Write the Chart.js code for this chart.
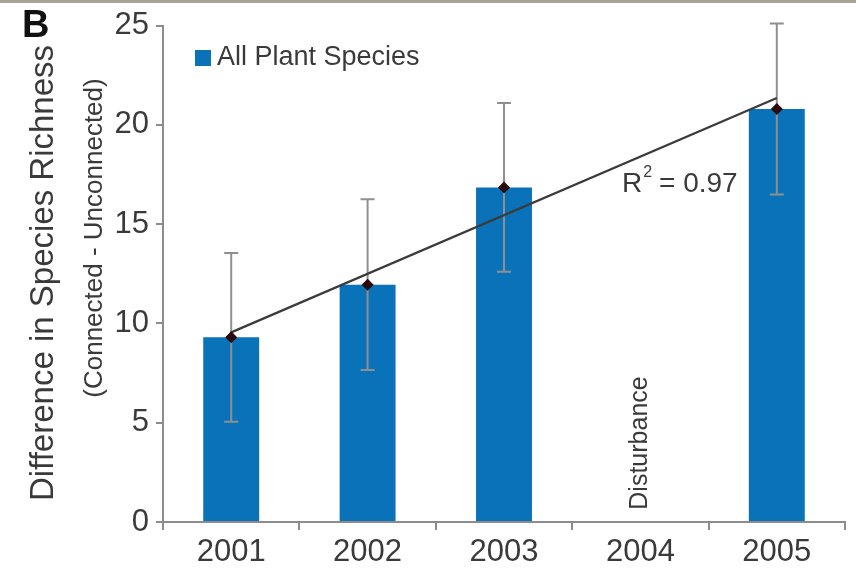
<!DOCTYPE html>
<html>
<head>
<meta charset="utf-8">
<script src="https://cdn.jsdelivr.net/npm/chart.js@4/dist/chart.umd.min.js"></script>
<style>
  html, body { margin: 0; padding: 0; background: #fff; }
  #wrap { position: relative; width: 856px; height: 580px; }
  #topRule { position: absolute; left: 0; top: 0; width: 856px; height: 3px; background: #a9a396; z-index: 2; }
  canvas { display: block; }
</style>
</head>
<body>
<div id="wrap">
  <div id="topRule"></div>
  <canvas id="c" width="856" height="580"></canvas>
</div>
<script>
// Survey years on the x axis
const years = ['2001', '2002', '2003', '2004', '2005'];
// Mean difference in species richness (connected - unconnected); no survey in 2004
const richnessDiff = [9.3, 11.95, 16.85, null, 20.8];
// Error bar half-lengths
const richnessErr = [4.25, 4.3, 4.25, null, 4.3];
// Linear trend through the surveyed years (end points of the fitted line)
const trendLine = [9.55, null, null, null, 21.35];
// Y axis ticks
const yTicks = [0, 5, 10, 15, 20, 25];

const seriesLabel = 'All Plant Species';
const barBlue = '#0a72b8';
const inkGray = '#3a3a3a';
const axisGray = '#8c8c8c';
const FONT = "'Liberation Sans', Arial, sans-serif";

// Error bars drawn right after the bars so the trend line and markers sit above them
const errorBars = {
  id: 'errorBars',
  afterDatasetDraw(chart, args) {
    if (args.index !== 0) return;
    const ctx = chart.ctx;
    const x = chart.scales.x, y = chart.scales.y;
    ctx.save();
    ctx.strokeStyle = '#8f8f8f';
    ctx.lineWidth = 2;
    richnessDiff.forEach((v, i) => {
      if (v == null) return;
      const px = x.getPixelForValue(i);
      const top = y.getPixelForValue(v + richnessErr[i]);
      const bot = y.getPixelForValue(v - richnessErr[i]);
      ctx.beginPath();
      ctx.moveTo(px, top); ctx.lineTo(px, bot);
      ctx.moveTo(px - 7, top); ctx.lineTo(px + 7, top);
      ctx.moveTo(px - 7, bot); ctx.lineTo(px + 7, bot);
      ctx.stroke();
    });
    ctx.restore();
  }
};

// Panel letter, axis titles, legend and annotations
const annotations = {
  id: 'annotations',
  afterDraw(chart) {
    const ctx = chart.ctx;
    const x = chart.scales.x, y = chart.scales.y;
    ctx.save();

    // Panel letter
    ctx.fillStyle = '#111';
    ctx.font = "bold 38px 'Liberation Sans', Arial, sans-serif";
    ctx.textAlign = 'left';
    ctx.textBaseline = 'alphabetic';
    ctx.fillText('B', 22, 37);

    // Y axis titles
    ctx.fillStyle = inkGray;
    ctx.textAlign = 'center';
    ctx.textBaseline = 'middle';
    ctx.save();
    ctx.translate(44, 273);
    ctx.rotate(-Math.PI / 2);
    ctx.font = '33px ' + FONT;
    ctx.fillText('Difference in Species Richness', 0, 0);
    ctx.restore();
    ctx.save();
    ctx.translate(95, 238);
    ctx.rotate(-Math.PI / 2);
    ctx.font = '26px ' + FONT;
    ctx.fillText('(Connected - Unconnected)', 0, 0);
    ctx.restore();

    // Legend
    ctx.fillStyle = barBlue;
    ctx.fillRect(195, 50, 16, 16);
    ctx.fillStyle = inkGray;
    ctx.textAlign = 'left';
    ctx.font = '27px ' + FONT;
    ctx.fillText(seriesLabel, 217, 58);

    // Fit annotation
    const rx = 622, ry = 184;
    ctx.font = '28px ' + FONT;
    ctx.fillText('R', rx, ry);
    const rw = ctx.measureText('R').width;
    ctx.font = '16px ' + FONT;
    ctx.fillText('2', rx + rw + 1, ry - 11);
    ctx.font = '28px ' + FONT;
    ctx.fillText(' = 0.97', rx + rw + 9, ry);

    // Gap year note
    ctx.save();
    ctx.translate(x.getPixelForValue(3), y.getPixelForValue(0) - 79);
    ctx.rotate(-Math.PI / 2);
    ctx.textAlign = 'center';
    ctx.font = '25px ' + FONT;
    ctx.fillText('Disturbance', 0, 0);
    ctx.restore();

    ctx.restore();
  }
};

new Chart(document.getElementById('c'), {
  data: {
    labels: years,
    datasets: [
      {
        type: 'bar',
        label: seriesLabel,
        data: richnessDiff,
        backgroundColor: barBlue,
        borderWidth: 0,
        barPercentage: 0.82,
        categoryPercentage: 0.5,
        order: 3
      },
      {
        type: 'line',
        label: 'trend',
        data: trendLine,
        spanGaps: true,
        borderColor: '#3b3b3b',
        borderWidth: 2.2,
        pointRadius: 0,
        fill: false,
        order: 2
      },
      {
        type: 'line',
        label: 'mean',
        data: richnessDiff,
        showLine: false,
        pointStyle: 'rectRot',
        pointRadius: 6,
        pointBackgroundColor: '#2a0a0c',
        pointBorderColor: '#2a0a0c',
        pointBorderWidth: 0,
        order: 1
      }
    ]
  },
  options: {
    responsive: false,
    animation: false,
    devicePixelRatio: 1,
    layout: { padding: { left: 0, right: 11, top: 18, bottom: 0 } },
    plugins: { legend: { display: false }, tooltip: { enabled: false } },
    scales: {
      x: {
        type: 'category',
        offset: true,
        grid: {
          offset: true,
          drawOnChartArea: false,
          drawTicks: true,
          tickLength: 8,
          color: axisGray,
          lineWidth: 2
        },
        border: { display: true, color: axisGray, width: 2 },
        ticks: {
          color: inkGray,
          font: { family: FONT, size: 31 },
          padding: 4,
          maxRotation: 0
        },
        afterFit(scale) { scale.height = 58; }
      },
      y: {
        min: 0,
        max: 25,
        afterBuildTicks(scale) { scale.ticks = yTicks.map(v => ({ value: v })); },
        grid: {
          drawOnChartArea: false,
          drawTicks: true,
          tickLength: 7,
          color: axisGray,
          lineWidth: 2
        },
        border: { display: true, color: axisGray, width: 2 },
        ticks: {
          color: inkGray,
          font: { family: FONT, size: 31 },
          padding: 7
        },
        afterFit(scale) { scale.width = 163; }
      }
    }
  },
  plugins: [errorBars, annotations]
});
</script>
</body>
</html>
